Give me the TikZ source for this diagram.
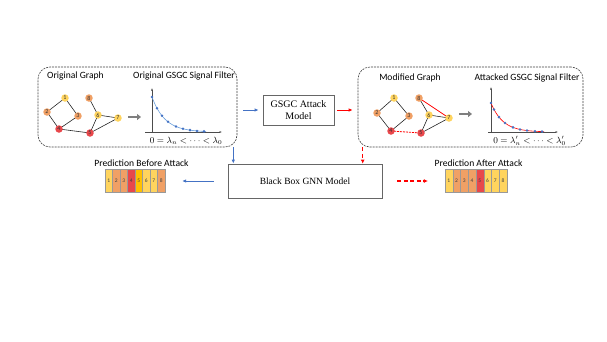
\documentclass[tikz,border=0pt]{standalone}
\usepackage{fontspec}
\setmainfont{Liberation Serif}
\newfontfamily\carl{Carlito}
\usetikzlibrary{arrows.meta,calc,backgrounds}
\definecolor{cyel}{HTML}{FFD45E}
\definecolor{corg}{HTML}{F0A065}
\definecolor{cred}{HTML}{E8474B}
\definecolor{cgold}{HTML}{FFC000}
\definecolor{cblue}{HTML}{4472C4}
\definecolor{clblue}{HTML}{6A9FDC}
\definecolor{cgray}{HTML}{7F7F7F}
\begin{document}
\begin{tikzpicture}[x=1pt,y=-1pt,
  gnode/.style={circle,minimum size=7.5pt,inner sep=0pt,font=\carl\fontsize{6}{6}\selectfont,text=black!80},
  gbox/.style={draw=black!75,rounded corners=12pt,dash pattern=on 2pt off 1pt,line width=0.6pt,minimum width=#1,minimum height=80pt,inner sep=0pt},
  mbox/.style={draw=black!60,line width=0.8pt,fill=white,align=center,inner sep=0pt},
  cell/.style={draw=black!40,line width=0.3pt,minimum width=#1,minimum height=23pt,inner sep=0pt,font=\carl\fontsize{5.5}{6}\selectfont,text=black!75},
  gedge/.style={line width=0.6pt,black!85},
  ttl/.style={font=\carl\fontsize{9.6}{10}\selectfont,inner sep=0pt},
  barrow/.style={cblue,line width=1pt,-{Latex[length=4pt,width=3.5pt]}},
  rarrow/.style={red,line width=1pt,-{Latex[length=4pt,width=3.5pt]}},
  rdarrow/.style={red,line width=1.3pt,dash pattern=on 4pt off 2.5pt,-{Latex[length=4pt,width=4pt]}},
  garrow/.style={cgray,line width=2pt,-{Triangle[length=4pt,width=6pt]}},
  axis/.style={black!70,line width=0.5pt,-{Latex[length=2.5pt,width=2pt]}},
  pt/.style={cblue}
]
\useasboundingbox (0,0) rectangle (607,341);

% dashed boxes
\node[gbox=199pt] (lbox) at (137.5,107) {};
\node[gbox=225pt] (rbox) at (470.5,107) {};

% titles
\node[ttl] (t1) at (75.5,76) {Original Graph};
\node[ttl] (t2) at (184,76) {Original GSGC Signal Filter};
\node[ttl] (t3) at (410,78) {Modified Graph};
\node[ttl] (t4) at (527,78) {Attacked GSGC Signal Filter};

% left graph
\node[gnode,fill=cyel] (a1) at (65,98) {1};
\node[gnode,fill=corg] (a2) at (47,112) {2};
\node[gnode,fill=corg] (a3) at (78,116) {3};
\node[gnode,fill=cred] (a4) at (59,129) {4};
\node[gnode,fill=cred] (a5) at (90,133) {5};
\node[gnode,fill=cyel] (a6) at (98,115) {6};
\node[gnode,fill=cyel] (a7) at (118,118) {7};
\node[gnode,fill=corg] (a8) at (89,98) {8};
\begin{scope}[on background layer]
\draw[gedge] (a1.center)--(a2.center) (a1.center)--(a3.center) (a2.center)--(a4.center) (a3.center)--(a4.center) (a4.center)--(a5.center) (a5.center)--(a6.center) (a5.center)--(a7.center) (a6.center)--(a7.center) (a6.center)--(a8.center);
\end{scope}

% right graph
\node[gnode,fill=cyel] (b1) at (394,98) {1};
\node[gnode,fill=corg] (b2) at (377,113) {2};
\node[gnode,fill=corg] (b3) at (409,116) {3};
\node[gnode,fill=cred] (b4) at (391,131) {4};
\node[gnode,fill=cred] (b5) at (421,133) {5};
\node[gnode,fill=cyel] (b6) at (429,115) {6};
\node[gnode,fill=cyel] (b7) at (449,118) {7};
\node[gnode,fill=corg] (b8) at (419,98) {8};
\begin{scope}[on background layer]
\draw[gedge] (b1.center)--(b2.center) (b1.center)--(b3.center) (b2.center)--(b4.center) (b3.center)--(b4.center) (b5.center)--(b6.center) (b5.center)--(b7.center) (b6.center)--(b7.center) (b6.center)--(b8.center);
\draw[red,line width=0.8pt,dash pattern=on 2pt off 1pt] (b4.center)--(b5.center);
\draw[red,line width=0.8pt] (b8.center)--(b7.center);
\end{scope}

% gray arrows
\coordinate (g1s) at (128,117); \coordinate (g1e) at (141,117);
\coordinate (g2s) at (459,114); \coordinate (g2e) at (472,114);
\draw[garrow] (g1s)--(g1e);
\draw[garrow] (g2s)--(g2e);

% left plot
\coordinate (lo) at (152,132.5);
\coordinate (ly) at (152,88);
\coordinate (lx0) at (145,132);
\coordinate (lx) at (222,132);
\draw[axis] (lo)--(ly);
\draw[axis] (lx0)--(lx);
\draw[clblue,line width=0.6pt] plot[domain=152:206,samples=50] (\x,{132-35*exp(-(\x-152)/13)});
\foreach \px in {152,157,162,168,176,183,190,197,204}
  \fill[pt] (\px,{132-35*exp(-(\px-152)/13)}) circle (1.4pt);
\node[inner sep=0pt,font=\fontsize{8.7}{9}\selectfont] (m1) at (186,141) {$0=\lambda_n<\cdots<\lambda_0$};

% right plot
\coordinate (ro) at (491,133);
\coordinate (ry) at (491,87);
\coordinate (rx0) at (488,132);
\coordinate (rx) at (558,132);
\draw[axis] (ro)--(ry);
\draw[axis] (rx0)--(rx);
\draw[red,line width=0.6pt] plot[domain=491:544,samples=50] (\x,{132-29*exp(-(\x-491)/12)});
\foreach \px in {491,494,499,505,513,520,527,535,542}
  \fill[pt] (\px,{132-29*exp(-(\px-491)/12)}) circle (1.4pt);
\node[inner sep=0pt,font=\fontsize{8.7}{9}\selectfont] (m2) at (529.5,141) {$0=\lambda'_n<\cdots<\lambda'_0$};

% model boxes
\node[mbox,minimum width=71pt,minimum height=30pt,font=\fontsize{10}{12}\selectfont] (atk) at (298.5,110) {GSGC Attack\\Model};
\node[mbox,minimum width=154pt,minimum height=34pt,font=\fontsize{9.5}{11}\selectfont] (bb) at (305,181) {Black Box GNN Model};

% arrows between boxes
\draw[barrow,shorten <=6pt,shorten >=4pt] (lbox.east |- atk.west) -- (atk.west);
\draw[rarrow,shorten <=3pt,shorten >=5pt] (atk.east) -- (rbox.west |- atk.east);
\draw[barrow] ([xshift=-4pt]lbox.south east) -- ([xshift=-4pt]lbox.south east |- bb.north);
\draw[rdarrow] ([xshift=5pt]rbox.south west) -- ([xshift=5pt]rbox.south west |- bb.north);

% prediction bars
\node[ttl] (pb) at (141.5,163) {Prediction Before Attack};
\node[ttl] (pa) at (478.5,163) {Prediction After Attack};
\foreach \i/\c in {1/cyel,2/corg,3/corg,4/cred,5/cgold,6/cyel,7/cyel,8/corg}
  \node[cell=7.5pt,fill=\c] (l\i) at ({105+7.5*(\i-0.5)},180.5) {\i};
\foreach \i/\c in {1/cyel,2/corg,3/corg,4/corg,5/cred,6/cyel,7/cyel,8/cyel}
  \node[cell=7.75pt,fill=\c] (r\i) at ({445+7.75*(\i-0.5)},180.5) {\i};

\draw[barrow,shorten <=14pt,shorten >=17pt] (bb.west) -- (l8.east |- bb.west);
\draw[rdarrow,shorten <=15pt,shorten >=17pt] (bb.east) -- (r1.west |- bb.east);
\end{tikzpicture}
\end{document}
